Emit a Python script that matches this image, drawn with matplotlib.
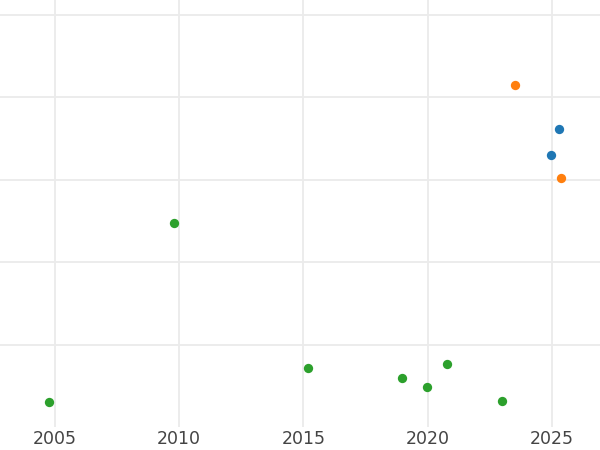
import matplotlib
matplotlib.use("Agg")
import matplotlib.pyplot as plt

# data
green_x = [2004.76, 2009.79, 2015.18, 2018.96, 2019.97, 2020.77, 2022.99]
green_y = [0.30, 2.47, 0.72, 0.60, 0.48, 0.76, 0.32]
orange_x = [2023.51, 2025.36]
orange_y = [4.15, 3.02]
blue_x = [2025.28, 2024.96]
blue_y = [3.61, 3.30]

x_ticks = [2005, 2010, 2015, 2020, 2025]
y_ticks = [1, 2, 3, 4, 5]

fig = plt.figure(figsize=(6, 4.5), dpi=100)
ax = fig.add_axes([0, 0.051, 1, 0.949])

ax.scatter(green_x, green_y, s=45, color="#2ca02c", zorder=3, linewidths=0)
ax.scatter(orange_x, orange_y, s=45, color="#ff7f0e", zorder=3, linewidths=0)
ax.scatter(blue_x, blue_y, s=45, color="#1f77b4", zorder=3, linewidths=0)

ax.set_xlim(2002.79, 2026.93)
ax.set_ylim(0, 5.18)
ax.set_xticks(x_ticks)
ax.set_yticks(y_ticks)
ax.set_yticklabels([])
ax.tick_params(length=0, labelsize=12.5, labelcolor="#444444", pad=2)

ax.grid(True, color="#ebebeb", linewidth=1.3)
ax.set_axisbelow(True)
for s in ax.spines.values():
    s.set_visible(False)

fig.savefig("out.png", dpi=100)
